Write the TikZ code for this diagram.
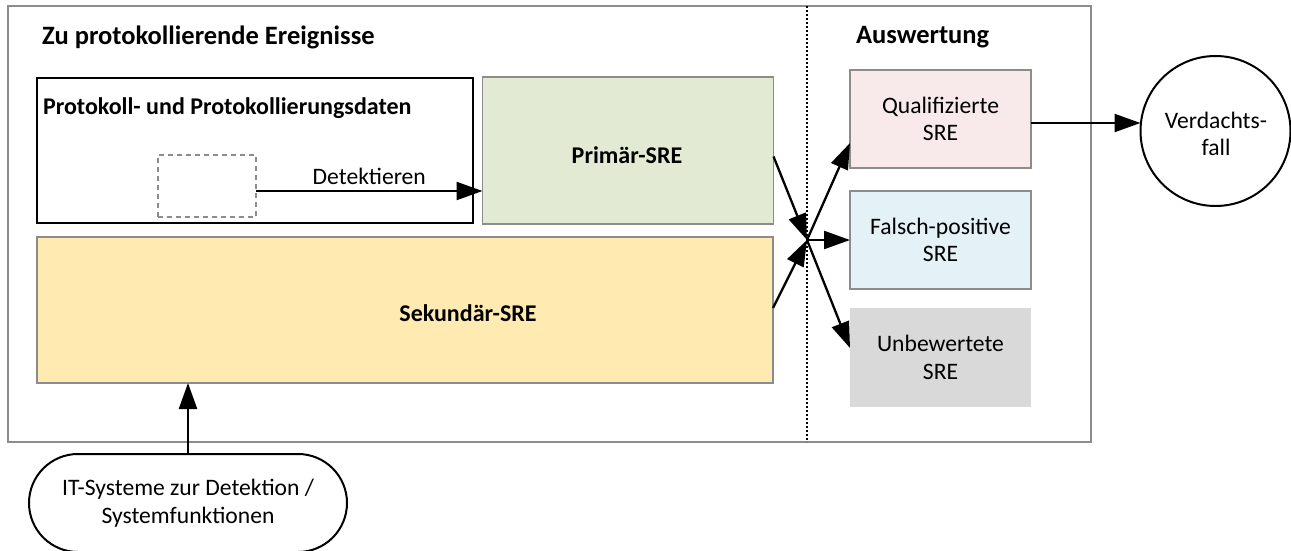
\documentclass[tikz,border=0pt]{standalone}
\usepackage{fontspec}
\setmainfont{Carlito}
\usetikzlibrary{arrows.meta,positioning,calc}
\definecolor{bordergray}{RGB}{140,140,140}
\definecolor{primfill}{RGB}{226,234,212}
\definecolor{sekfill}{RGB}{255,235,178}
\definecolor{qualfill}{RGB}{248,234,234}
\definecolor{falschfill}{RGB}{228,241,247}
\definecolor{unbfill}{RGB}{217,217,217}
\tikzset{
  every node/.style={font=\fontsize{23.6}{27.5}\selectfont, inner sep=0pt, outer sep=0pt},
  titlelabel/.style={font=\fontsize{26.5}{30}\selectfont\bfseries, anchor=west},
  boldtext/.style={font=\fontsize{24}{28}\selectfont\bfseries},
  rbox/.style={draw=bordergray, line width=1.8pt, minimum width=181pt, minimum height=98pt, align=center},
  arr/.style={line width=2.3pt, -{Triangle[length=26pt,width=18pt]}},
}
\begin{document}
\begin{tikzpicture}[x=1pt,y=-1pt]
\clip (0,0) rectangle (1291,551);
\fill[white] (0,0) rectangle (1291,551);
% outer frame
\node[draw=bordergray, line width=1.8pt, minimum width=1083pt, minimum height=436pt] (outer) at (549.5,224) {};
\coordinate (dtop) at (807,6);
\coordinate (dbot) at (807,442);
\draw[line width=2pt, dotted] (dtop) -- (dbot);
% titles
\node[titlelabel] (t1) at (42,37) {Zu protokollierende Ereignisse};
\node[titlelabel] (t2) at (856,37) {Auswertung};
% left boxes
\node[draw=black, line width=2pt, minimum width=436pt, minimum height=145pt] (prot) at (255,150.5) {};
\node[boldtext, anchor=west] (protl) at (43,108) {Protokoll- und Protokollierungsdaten};
\node[draw=bordergray, line width=2pt, dash pattern=on 5pt off 4pt, minimum width=98pt, minimum height=62pt] (dbox) at (207,186) {};
\node[draw=bordergray, fill=primfill, line width=1.8pt, minimum width=291pt, minimum height=147pt] (prim) at (628,150.5) {};
\node[boldtext] (priml) at (627,155) {Primär-SRE};
\node[draw=bordergray, fill=sekfill, line width=1.8pt, minimum width=736pt, minimum height=146pt] (sek) at (405,310) {};
\node[boldtext] (sekl) at (468,313) {Sekundär-SRE};
% right boxes
\node[rbox, fill=qualfill] (qual) at (940.5,119) {Qualifizierte\\SRE};
\node[rbox, fill=falschfill] (falsch) at (940.5,240) {Falsch-positive\\SRE};
\node[rbox, draw=none, fill=unbfill, minimum height=99pt] (unb) at (940.5,357.5) {Unbewertete\\SRE};
\node[draw=black, line width=2pt, circle, minimum size=150pt, align=center] (verd) at (1215.5,131) {};
\node[align=center] (verdl) at (1216,134) {Verdachts-\\fall};
% bottom source
\node[draw=black, line width=2pt, rounded corners=49pt, minimum width=318pt, minimum height=98pt, align=center] (src) at (188,503) {IT-Systeme zur Detektion /\\Systemfunktionen};
% connectors
\coordinate (dstart) at ([yshift=-5pt]dbox.east);
\draw[arr] (dstart) -- node[above=6pt] (detl) {Detektieren} (dstart -| prim.west);
\coordinate (X) at (807,240);
\draw[arr] ([yshift=-6pt]prim.east) -- (X);
\draw[arr] ([yshift=2pt]sek.east) -- (X);
\draw[arr] (X) -- ([yshift=-24pt]qual.west);
\draw[arr] (X) -- (falsch.west);
\draw[arr] (X) -- ([yshift=9.5pt]unb.west);
\coordinate (qstart) at ([yshift=-4pt]qual.east);
\draw[arr] (qstart) -- (qstart -| verd.west);
\draw[arr] (src.north) -- (src.north |- sek.south);
\end{tikzpicture}
\end{document}
